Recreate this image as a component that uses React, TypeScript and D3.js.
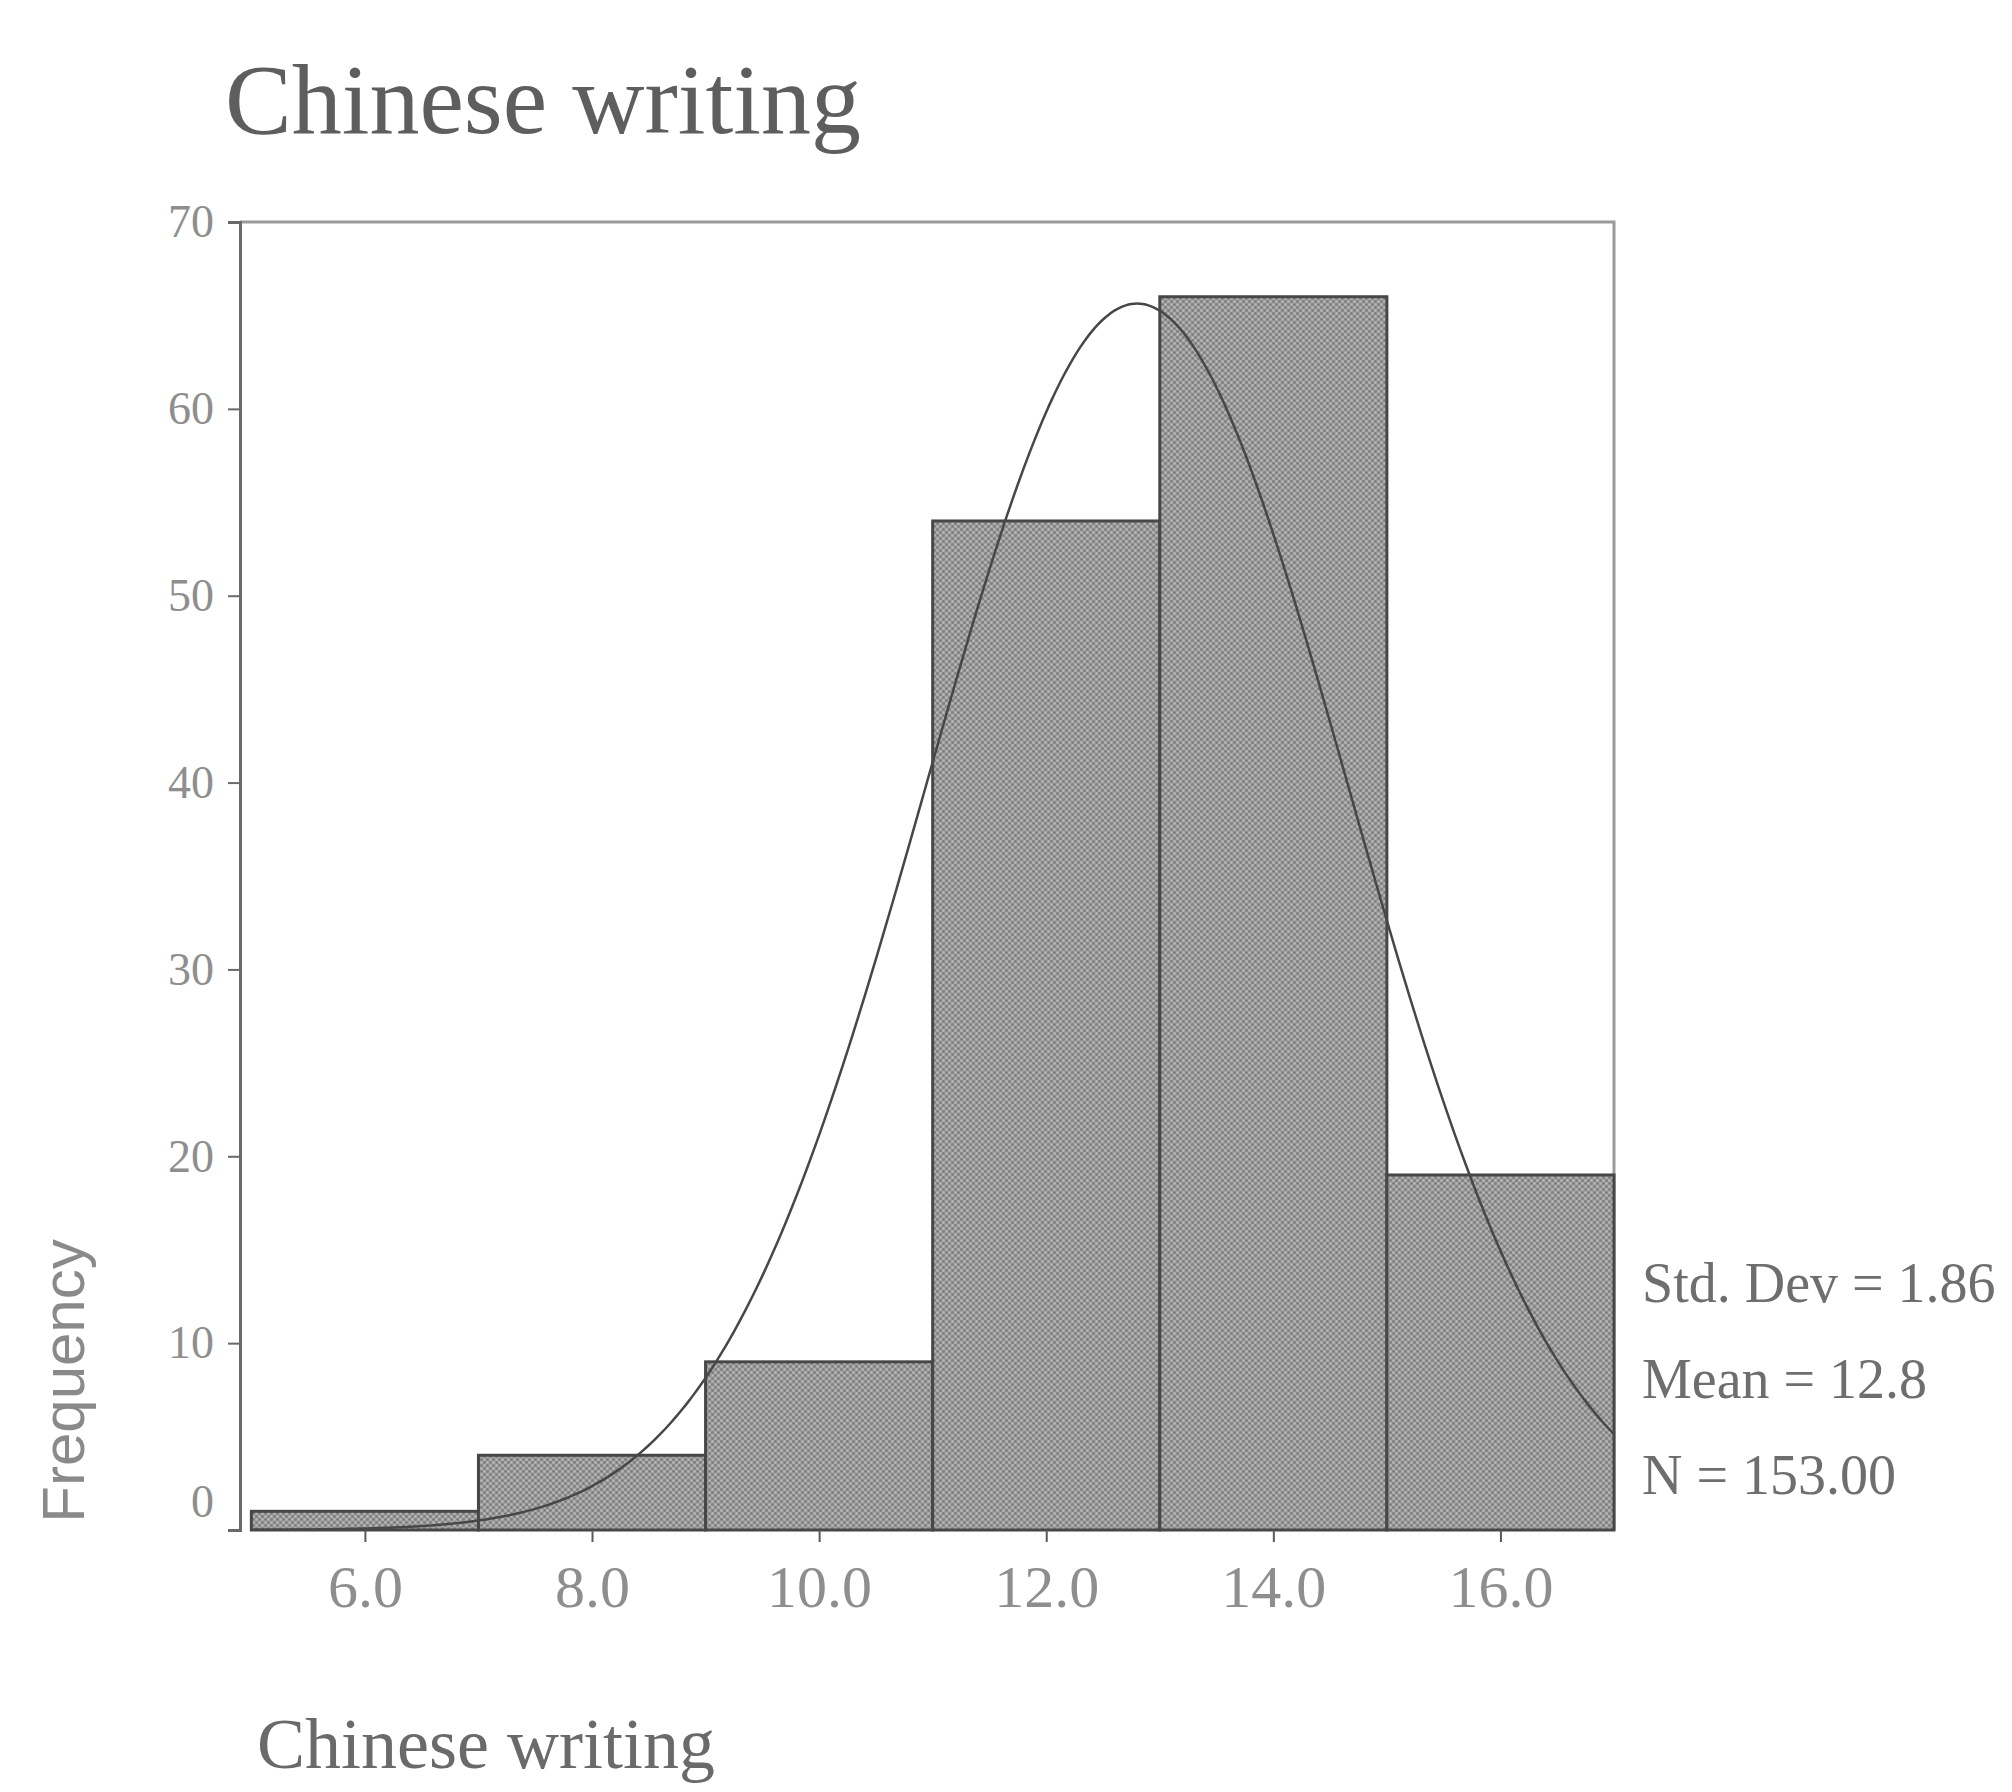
import React, { useEffect, useRef } from "react";
import * as d3 from "d3";

// histogram bins (lower edge, upper edge) and frequencies
const binStarts = [5, 7, 9, 11, 13, 15];
const binWidth = 2;
const frequencies = [1, 4, 9, 54, 66, 19];

const xTicks = [6, 8, 10, 12, 14, 16];
const yTicks = [0, 10, 20, 30, 40, 50, 60, 70];

// summary stats printed next to the chart
const stdDev = 1.86;
const mean = 12.8;
const count = 153;
const statLines = ["Std. Dev = 1.86", "Mean = 12.8", "N = 153.00"];

const title = "Chinese writing";
const xTitle = "Chinese writing";
const yTitle = "Frequency";

export default function App() {
  const ref = useRef<SVGSVGElement>(null);

  useEffect(() => {
    const svg = d3.select(ref.current);
    svg.selectAll("*").remove();

    const W = 2012;
    const H = 1792;
    const left = 240;
    const right = 1614;
    const top = 222;
    const bottom = 1530;

    const x = d3.scaleLinear().domain([4.9, 17]).range([left, right]);
    const y = d3.scaleLinear().domain([0, 70]).range([bottom, top]);

    svg.attr("width", W).attr("height", H);

    // dithered grey fill like the printed original
    const defs = svg.append("defs");
    const pat = defs
      .append("pattern")
      .attr("id", "dither")
      .attr("patternUnits", "userSpaceOnUse")
      .attr("width", 6)
      .attr("height", 6);
    pat.append("rect").attr("width", 6).attr("height", 6).attr("fill", "#9e9e9e");
    pat.append("circle").attr("cx", 1.5).attr("cy", 1.5).attr("r", 1.3).attr("fill", "#7a7a7a");
    pat.append("circle").attr("cx", 4.5).attr("cy", 4.5).attr("r", 1.3).attr("fill", "#7a7a7a");
    pat.append("circle").attr("cx", 4.5).attr("cy", 1.5).attr("r", 1.1).attr("fill", "#bebebe");
    pat.append("circle").attr("cx", 1.5).attr("cy", 4.5).attr("r", 1.1).attr("fill", "#bebebe");

    svg.append("rect").attr("width", W).attr("height", H).attr("fill", "#fff");

    // title
    svg
      .append("text")
      .attr("x", 225)
      .attr("y", 133)
      .attr("font-family", "Liberation Serif, serif")
      .attr("font-size", 100)
      .attr("fill", "#5e5e5e")
      .text(title);

    // frame: top and right edges
    svg
      .append("path")
      .attr("d", `M${left},${top}H${right}V${bottom}`)
      .attr("fill", "none")
      .attr("stroke", "#9a9a9a")
      .attr("stroke-width", 3);

    // bars
    const bins = binStarts.map((s, i) => ({ x0: s, x1: s + binWidth, n: frequencies[i] }));
    svg
      .append("g")
      .selectAll("rect")
      .data(bins)
      .join("rect")
      .attr("x", (d) => x(d.x0))
      .attr("y", (d) => y(d.n))
      .attr("width", (d) => x(d.x1) - x(d.x0))
      .attr("height", (d) => y(0) - y(d.n))
      .attr("fill", "url(#dither)")
      .attr("stroke", "#474747")
      .attr("stroke-width", 3);

    // normal curve from the printed mean / sd / N
    const pdf = (v: number) =>
      (count * binWidth) / (stdDev * Math.sqrt(2 * Math.PI)) *
      Math.exp(-0.5 * ((v - mean) / stdDev) ** 2);
    const pts = d3.range(5, 17.001, 0.05);
    const line = d3
      .line<number>()
      .x((d) => x(d))
      .y((d) => y(pdf(d)))
      .curve(d3.curveMonotoneX);
    svg
      .append("path")
      .datum(pts)
      .attr("d", line)
      .attr("fill", "none")
      .attr("stroke", "#474747")
      .attr("stroke-width", 2.5);

    // y axis
    const yAxis = svg
      .append("g")
      .attr("transform", `translate(${left},0)`)
      .call(d3.axisLeft(y).tickValues(yTicks).tickSize(12).tickPadding(14).tickFormat(d3.format("d")));
    yAxis.select(".domain").attr("stroke", "#6a6a6a").attr("stroke-width", 3);
    yAxis.selectAll(".tick line").attr("stroke", "#6a6a6a").attr("stroke-width", 2);
    yAxis
      .selectAll(".tick text")
      .attr("font-family", "Liberation Serif, serif")
      .attr("font-size", 46)
      .attr("fill", "#8e8e8e")
      .attr("dy", (d: any) => (d === 0 ? "-0.3em" : "0.32em"));

    // x axis (ticks only, no baseline)
    const xAxis = svg
      .append("g")
      .attr("transform", `translate(0,${bottom})`)
      .call(d3.axisBottom(x).tickValues(xTicks).tickSize(12).tickPadding(22).tickFormat(d3.format(".1f")));
    xAxis.select(".domain").remove();
    xAxis.selectAll(".tick line").attr("stroke", "#5a5a5a").attr("stroke-width", 2);
    xAxis
      .selectAll(".tick text")
      .attr("font-family", "Liberation Serif, serif")
      .attr("font-size", 60)
      .attr("fill", "#8e8e8e");

    // stats block
    svg
      .append("g")
      .selectAll("text")
      .data(statLines)
      .join("text")
      .attr("x", 1642)
      .attr("y", (_, i) => 1302 + i * 96)
      .attr("font-family", "Liberation Serif, serif")
      .attr("font-size", 56)
      .attr("fill", "#6e6e6e")
      .text((d) => d);

    // axis titles
    svg
      .append("text")
      .attr("transform", "translate(84,1381) rotate(-90)")
      .attr("text-anchor", "middle")
      .attr("font-family", "Liberation Sans, sans-serif")
      .attr("font-size", 60)
      .attr("fill", "#8a8a8a")
      .text(yTitle);

    svg
      .append("text")
      .attr("x", 257)
      .attr("y", 1768)
      .attr("font-family", "Liberation Serif, serif")
      .attr("font-size", 72)
      .attr("fill", "#6a6a6a")
      .text(xTitle);
  }, []);

  return <svg ref={ref} style={{ position: "absolute", left: 0, top: 0 }}></svg>;
}
